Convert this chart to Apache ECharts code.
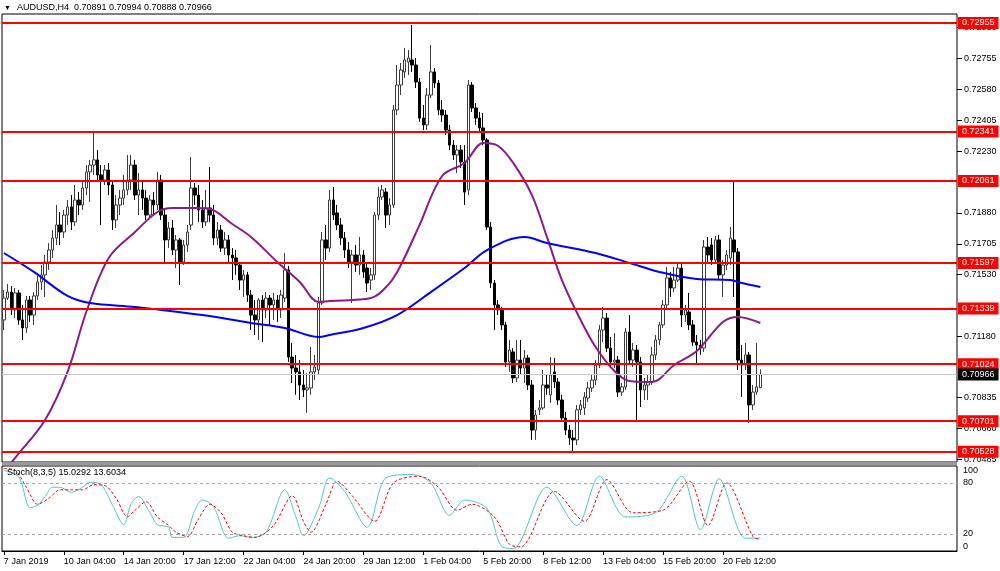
<!DOCTYPE html>
<html><head><meta charset="utf-8">
<script src="https://cdn.jsdelivr.net/npm/echarts@6/dist/echarts.min.js"></script>
<style>html,body{margin:0;padding:0;background:#fff}#c{width:1000px;height:571px}</style>
</head><body><div id="c"></div>
<script>
// ---------- data ----------
const headerText = 'AUDUSD,H4  0.70891 0.70994 0.70888 0.70966';
const stochText = 'Stoch(8,3,5) 15.0292 13.6034';

const opens = [
0.71274,0.71398,0.71432,0.71331,0.71427,0.71274,0.71229,0.71387,0.71302,0.71410,
0.71489,0.71529,0.71602,0.71670,0.71738,0.71812,0.71772,0.71868,0.71914,0.71829,
0.71953,0.71925,0.72021,0.72112,0.72151,0.72180,0.72095,0.72066,0.72123,0.72038,
0.71840,0.71925,0.71964,0.72010,0.72066,0.72151,0.71981,0.72010,0.71964,0.71868,
0.71953,0.71925,0.72066,0.71868,0.71727,0.71795,0.71670,0.71727,0.71602,0.71698,
0.71812,0.72021,0.71981,0.71897,0.71829,0.71908,0.71868,0.71738,0.71783,0.71681,
0.71727,0.71642,0.71625,0.71585,0.71500,0.71529,0.71415,0.71302,0.71274,0.71387,
0.71331,0.71398,0.71359,0.71387,0.71331,0.71398,0.71557,0.71064,0.71002,0.70980,
0.70906,0.70878,0.70889,0.70980,0.70991,0.71370,0.71727,0.71681,0.71953,0.71880,
0.71812,0.71738,0.71670,0.71602,0.71642,0.71585,0.71642,0.71568,0.71500,0.71529,
0.71868,0.71970,0.71998,0.71868,0.71925,0.72463,0.72604,0.72678,0.72734,0.72746,
0.72717,0.72621,0.72417,0.72378,0.72547,0.72678,0.72615,0.72463,0.72434,0.72349,
0.72264,0.72208,0.72236,0.72168,0.72010,0.72604,0.72474,0.72417,0.72361,0.72293,
0.71800,0.71483,0.71359,0.71331,0.71246,0.71036,0.71093,0.70946,0.71047,0.71002,
0.71059,0.70906,0.70651,0.70765,0.70776,0.70906,0.70850,0.70980,0.70923,0.70821,
0.70719,0.70651,0.70606,0.70595,0.70765,0.70776,0.70832,0.70889,0.70934,0.71019,
0.71217,0.71285,0.71115,0.71036,0.71047,0.70866,0.70895,0.71206,0.71047,0.71104,
0.71036,0.70878,0.70906,0.70923,0.71076,0.71161,0.71246,0.71359,0.71512,0.71455,
0.71500,0.71568,0.71302,0.71319,0.71246,0.71149,0.71132,0.71115,0.71687,0.71698,
0.71614,0.71727,0.71529,0.71585,0.71625,0.71727,0.71659,0.71047,0.71019,0.71076,
0.70793,0.70866,0.70891];
const closes = [
0.71398,0.71432,0.71331,0.71427,0.71274,0.71229,0.71387,0.71302,0.71410,0.71489,
0.71529,0.71602,0.71670,0.71738,0.71812,0.71772,0.71868,0.71914,0.71829,0.71953,
0.71925,0.72021,0.72112,0.72151,0.72180,0.72095,0.72066,0.72123,0.72038,0.71840,
0.71925,0.71964,0.72010,0.72066,0.72151,0.71981,0.72010,0.71964,0.71868,0.71953,
0.71925,0.72066,0.71868,0.71727,0.71795,0.71670,0.71727,0.71602,0.71698,0.71772,
0.72021,0.71981,0.71897,0.71829,0.71908,0.71868,0.71738,0.71783,0.71681,0.71727,
0.71642,0.71625,0.71585,0.71500,0.71529,0.71415,0.71302,0.71274,0.71387,0.71331,
0.71398,0.71359,0.71387,0.71331,0.71415,0.71557,0.71064,0.71002,0.70980,0.70906,
0.70878,0.70889,0.70980,0.71008,0.71370,0.71727,0.71681,0.71953,0.71868,0.71812,
0.71738,0.71670,0.71602,0.71642,0.71585,0.71642,0.71546,0.71483,0.71529,0.71868,
0.71970,0.72010,0.71868,0.71925,0.72463,0.72604,0.72689,0.72746,0.72757,0.72717,
0.72621,0.72417,0.72378,0.72547,0.72678,0.72615,0.72463,0.72434,0.72349,0.72264,
0.72208,0.72236,0.72168,0.71998,0.72604,0.72474,0.72417,0.72361,0.72293,0.71800,
0.71483,0.71359,0.71331,0.71246,0.71036,0.71104,0.70946,0.71047,0.71002,0.71059,
0.70906,0.70651,0.70736,0.70776,0.70906,0.70889,0.70963,0.70923,0.70821,0.70719,
0.70651,0.70606,0.70595,0.70765,0.70793,0.70838,0.70889,0.70934,0.71019,0.71217,
0.71285,0.71115,0.71036,0.71047,0.70866,0.70895,0.71206,0.71047,0.71104,0.71036,
0.70878,0.70906,0.70923,0.71076,0.71161,0.71246,0.71359,0.71512,0.71455,0.71500,
0.71568,0.71302,0.71331,0.71246,0.71149,0.71132,0.71115,0.71687,0.71642,0.71614,
0.71727,0.71529,0.71585,0.71642,0.71738,0.71659,0.71047,0.71019,0.71076,0.70793,
0.70866,0.70895,0.70966];
const lows = [
0.71217,0.71387,0.71302,0.71285,0.71246,0.71161,0.71200,0.71263,0.71246,0.71387,
0.71444,0.71404,0.71557,0.71625,0.71698,0.71698,0.71738,0.71812,0.71783,0.71806,
0.71868,0.71897,0.71981,0.71942,0.72095,0.72066,0.71812,0.72038,0.71981,0.71783,
0.71795,0.71868,0.71925,0.71981,0.72010,0.71953,0.71868,0.71897,0.71840,0.71851,
0.71868,0.71897,0.71840,0.71602,0.71681,0.71642,0.71568,0.71472,0.71585,0.71659,
0.71783,0.71925,0.71829,0.71795,0.71806,0.71829,0.71698,0.71698,0.71659,0.71642,
0.71602,0.71500,0.71529,0.71444,0.71404,0.71376,0.71217,0.71189,0.71161,0.71149,
0.71285,0.71246,0.71274,0.71263,0.71285,0.71376,0.71036,0.70917,0.70850,0.70821,
0.70838,0.70748,0.70850,0.70934,0.70963,0.71359,0.71614,0.71659,0.71840,0.71783,
0.71698,0.71625,0.71568,0.71370,0.71546,0.71529,0.71512,0.71432,0.71444,0.71500,
0.71840,0.71953,0.71795,0.71812,0.71908,0.72434,0.72547,0.72644,0.72661,0.72678,
0.72587,0.72395,0.72349,0.72349,0.72530,0.72587,0.72434,0.72395,0.72321,0.72236,
0.72180,0.72106,0.72134,0.71925,0.71981,0.72451,0.72378,0.72338,0.72264,0.71783,
0.71455,0.71217,0.71302,0.71217,0.71008,0.70980,0.70917,0.70923,0.70963,0.70917,
0.70878,0.70595,0.70595,0.70736,0.70765,0.70850,0.70804,0.70889,0.70793,0.70697,
0.70623,0.70566,0.70527,0.70566,0.70736,0.70736,0.70810,0.70866,0.70906,0.71002,
0.71149,0.71093,0.71013,0.71002,0.70838,0.70844,0.70878,0.71019,0.71008,0.70708,
0.70781,0.70821,0.70821,0.70906,0.71047,0.71132,0.71229,0.71331,0.71404,0.71432,
0.71489,0.71234,0.71263,0.71217,0.71127,0.71030,0.71076,0.71093,0.71602,0.71585,
0.71597,0.71500,0.71404,0.71557,0.71585,0.71404,0.70991,0.70838,0.70991,0.70691,
0.70765,0.70850,0.70888];
const highs = [
0.71444,0.71478,0.71466,0.71455,0.71444,0.71359,0.71410,0.71410,0.71432,0.71523,
0.71585,0.71642,0.71710,0.71783,0.71925,0.71885,0.71897,0.71953,0.71981,0.72038,
0.71998,0.72066,0.72151,0.72180,0.72332,0.72236,0.72151,0.72151,0.72163,0.72066,
0.71981,0.72010,0.72095,0.72208,0.72208,0.72180,0.72106,0.72066,0.72010,0.71981,
0.71998,0.72112,0.72095,0.71897,0.71829,0.71840,0.71755,0.71738,0.71727,0.71812,
0.72197,0.72049,0.72038,0.71953,0.72010,0.72140,0.71925,0.71829,0.71812,0.71772,
0.71755,0.71681,0.71670,0.71602,0.71557,0.71546,0.71444,0.71387,0.71398,0.71415,
0.71432,0.71415,0.71427,0.71415,0.71444,0.71653,0.71580,0.71144,0.71076,0.71047,
0.70991,0.70974,0.71121,0.71076,0.71404,0.71772,0.71812,0.72010,0.72027,0.71925,
0.71851,0.71772,0.71715,0.71670,0.71698,0.71744,0.71670,0.71602,0.71568,0.71885,
0.72027,0.72038,0.72021,0.71964,0.72491,0.72717,0.72729,0.72814,0.72802,0.72944,
0.72757,0.72644,0.72491,0.72587,0.72831,0.72700,0.72632,0.72519,0.72463,0.72378,
0.72293,0.72264,0.72264,0.72264,0.72632,0.72621,0.72502,0.72451,0.72446,0.72304,
0.71829,0.71500,0.71387,0.71348,0.71263,0.71161,0.71115,0.71161,0.71161,0.71104,
0.71076,0.70934,0.70765,0.70821,0.70991,0.70963,0.71064,0.71059,0.70946,0.70850,
0.70753,0.70680,0.70651,0.70793,0.70821,0.70866,0.70923,0.70963,0.71047,0.71246,
0.71348,0.71313,0.71178,0.71200,0.71070,0.70917,0.71229,0.71302,0.71144,0.71132,
0.71064,0.70946,0.70963,0.71121,0.71189,0.71263,0.71387,0.71574,0.71546,0.71574,
0.71597,0.71597,0.71359,0.71427,0.71274,0.71189,0.71161,0.71727,0.71744,0.71738,
0.71749,0.71755,0.71614,0.71670,0.71800,0.72055,0.71681,0.71132,0.71144,0.71093,
0.70906,0.71144,0.70994];

// moving averages: [bar index, price]
const maPurple = [[0,0.70414],[3,0.70493],[11,0.70708],[17,0.70980],[22,0.71319],[28,0.71625],[35,0.71772],[41,0.71885],[45,0.71908],[51,0.71908],[55,0.71902],[61,0.71817],[66,0.71744],[73,0.71602],[79,0.71489],[84,0.71376],[87,0.71381],[98,0.71398],[103,0.71483],[106,0.71585],[111,0.71812],[117,0.72089],[123,0.72163],[128,0.72276],[132,0.72259],[136,0.72163],[141,0.71981],[145,0.71744],[149,0.71500],[154,0.71274],[158,0.71121],[163,0.70985],[167,0.70929],[173,0.70923],[179,0.71019],[185,0.71098],[192,0.71263],[196,0.71291],[202,0.71257]];
const maBlue = [[0,0.71653],[8,0.71546],[17,0.71410],[23,0.71370],[35,0.71348],[40,0.71336],[53,0.71302],[66,0.71257],[75,0.71229],[84,0.71178],[87,0.71189],[96,0.71229],[105,0.71302],[114,0.71432],[123,0.71568],[129,0.71670],[139,0.71744],[145,0.71710],[158,0.71653],[167,0.71597],[175,0.71546],[185,0.71506],[194,0.71500],[197,0.71483],[202,0.71461]];

// stochastic oscillator: [bar index, value]
const stochMain = [[0,95],[4,87],[7,51],[9,54],[11,64],[13,75],[15,75],[18,69],[21,75],[23,81],[26,78],[29,54],[32,31],[34,56],[36,64],[39,45],[41,31],[44,28],[45,16],[48,16],[51,48],[53,60],[56,52],[60,15],[63,18],[66,16],[70,22],[75,72],[78,40],[80,18],[84,50],[87,86],[91,70],[97,28],[102,86],[109,90],[114,80],[119,42],[123,60],[129,50],[133,5],[136,3],[145,75],[153,30],[159,88],[166,40],[174,45],[181,88],[186,25],[191,85],[198,15],[202,15.03]];
const stochSignal = [[0,97],[3,95],[6,75],[9,55],[12,62],[15,72],[18,72],[21,72],[24,78],[27,77],[30,62],[33,40],[35,48],[38,58],[41,40],[44,30],[46,22],[49,17],[52,38],[55,55],[58,45],[61,22],[64,18],[67,16],[72,30],[77,65],[80,35],[82,22],[86,55],[89,82],[93,65],[99,35],[104,80],[111,88],[116,75],[121,48],[125,55],[131,40],[135,8],[138,5],[147,70],[155,35],[161,84],[168,45],[176,48],[183,82],[188,30],[193,80],[200,17],[202,13.6]];

const levels = [0.72955, 0.72341, 0.72061, 0.71597, 0.71339, 0.71024, 0.70701, 0.70528];
const lastPrice = 0.70966;
const priceTicks = [0.72930, 0.72755, 0.72580, 0.72405, 0.72230, 0.71880, 0.71705, 0.71530, 0.71180, 0.70835, 0.70660, 0.70485];
const stochTicks = [0, 20, 80, 100];
const stochLevels = [80, 20];
const timeTickLabels = ['7 Jan 2019','10 Jan 04:00','14 Jan 20:00','17 Jan 12:00','22 Jan 04:00','24 Jan 20:00','29 Jan 12:00','1 Feb 04:00','5 Feb 20:00','8 Feb 12:00','13 Feb 04:00','15 Feb 20:00','20 Feb 12:00'];

// ---------- categories: H4 bars (weekdays), then empty space to the right ----------
const SLOTS = 255, LABEL_EVERY = 16;
const categories = [];
(function(){
  let t = Date.UTC(2019,0,7,12);
  const mon=['Jan','Feb','Mar'];
  while (categories.length < opens.length) {
    const d = new Date(t);
    const wd = d.getUTCDay();
    if (wd !== 0 && wd !== 6) {
      categories.push(d.getUTCDate()+' '+mon[d.getUTCMonth()]+' '+String(d.getUTCHours()).padStart(2,'0')+':00');
    }
    t += 4*3600*1000;
  }
  while (categories.length < SLOTS) categories.push('');
})();
const isLabelSlot = idx => idx % LABEL_EVERY === 0 && idx / LABEL_EVERY < timeTickLabels.length;

const FONT = "'Liberation Sans', Arial, sans-serif";
const candles = opens.map((o,i)=>[o, closes[i], lows[i], highs[i]]);

const chart = echarts.init(document.getElementById('c'), null, {renderer:'canvas'});
chart.setOption({
  animation:false,
  backgroundColor:'#ffffff',
  textStyle:{fontFamily:FONT},
  graphic:[
    {type:'text', left:4, top:5, style:{text:'▼', fontSize:7, fill:'#000', fontFamily:FONT}},
    {type:'text', left:17, top:3, style:{text:headerText, fontSize:9, fill:'#000', fontFamily:FONT}},
    {type:'text', left:7, top:468, z:100, style:{text:stochText, fontSize:9, fill:'#000', fontFamily:FONT}},
    {type:'rect', left:2, top:462, z:50, shape:{width:955, height:3}, style:{fill:'#9a9a9a'}}
  ],
  grid:[
    {left:2, top:14, width:955, height:448, show:true, borderColor:'#000', borderWidth:1},
    {left:2, top:466, width:955, height:85, show:true, borderColor:'#000', borderWidth:1}
  ],
  xAxis:[
    {type:'category', gridIndex:0, data:categories, boundaryGap:true,
     axisLine:{show:false}, axisTick:{show:false}, axisLabel:{show:false}, splitLine:{show:false}},
    {type:'category', gridIndex:1, data:categories, boundaryGap:true,
     axisLine:{show:true, lineStyle:{color:'#000'}},
     axisTick:{show:true, interval:(idx)=>isLabelSlot(idx), alignWithLabel:true, length:4, lineStyle:{color:'#000'}},
     axisLabel:{show:true, interval:(idx)=>isLabelSlot(idx), align:'left', margin:6, fontSize:9, color:'#000', fontFamily:FONT,
       formatter:(v,idx)=> isLabelSlot(idx) ? timeTickLabels[idx/LABEL_EVERY] : ''},
     splitLine:{show:false}}
  ],
  yAxis:[
    {type:'value', gridIndex:0, position:'right', min:0.70470, max:0.73006,
     axisLine:{show:false}, splitLine:{show:false},
     axisTick:{show:true, customValues:priceTicks, length:5, lineStyle:{color:'#000'}},
     axisLabel:{customValues:priceTicks, formatter:v=>v.toFixed(5), fontSize:9, color:'#000', margin:7, fontFamily:FONT}},
    {type:'value', gridIndex:1, position:'right', min:0, max:100,
     axisLine:{show:false}, splitLine:{show:false}, axisTick:{show:false},
     axisLabel:{customValues:stochTicks, fontSize:9, color:'#000', margin:6, fontFamily:FONT,
       verticalAlignMinLabel:'bottom', verticalAlignMaxLabel:'top'}}
  ],
  series:[
    {type:'candlestick', xAxisIndex:0, yAxisIndex:0, data:candles, barWidth:3,
     itemStyle:{color:'#ffffff', color0:'#000000', borderColor:'#3c3c3c', borderColor0:'#000000', borderWidth:1},
     markLine:{silent:true, symbol:'none', animation:false, precision:5,
       lineStyle:{color:'#ff0000', width:2, type:'solid'},
       label:{show:true, position:'end', distance:1, formatter:p=>Number(p.value).toFixed(5),
         backgroundColor:'#ff0000', color:'#ffffff', fontSize:9, fontFamily:FONT, padding:[2,4,1,4]},
       data: levels.map(v=>({yAxis:v})).concat([{yAxis:lastPrice, lineStyle:{color:'#c8c8c8', width:1, type:'solid'},
         label:{backgroundColor:'#000000', color:'#ffffff'}}])}
    },
    {type:'line', xAxisIndex:0, yAxisIndex:0, data:maPurple, smooth:0.35, showSymbol:false, symbol:'none',
     lineStyle:{color:'#8b1a8b', width:2}, z:3},
    {type:'line', xAxisIndex:0, yAxisIndex:0, data:maBlue, smooth:0.35, showSymbol:false, symbol:'none',
     lineStyle:{color:'#0000ff', width:2}, z:3},
    {type:'line', xAxisIndex:1, yAxisIndex:1, data:stochMain, smooth:0.3, showSymbol:false, symbol:'none',
     lineStyle:{color:'#4ec9c2', width:1},
     markLine:{silent:true, symbol:'none', animation:false, label:{show:false},
       lineStyle:{color:'#a8a8a8', width:1, type:[3,3]}, data:stochLevels.map(v=>({yAxis:v}))}},
    {type:'line', xAxisIndex:1, yAxisIndex:1, data:stochSignal, smooth:0.3, showSymbol:false, symbol:'none',
     lineStyle:{color:'#ff0000', width:1, type:[3,2]}}
  ]
});
</script>
</body></html>
